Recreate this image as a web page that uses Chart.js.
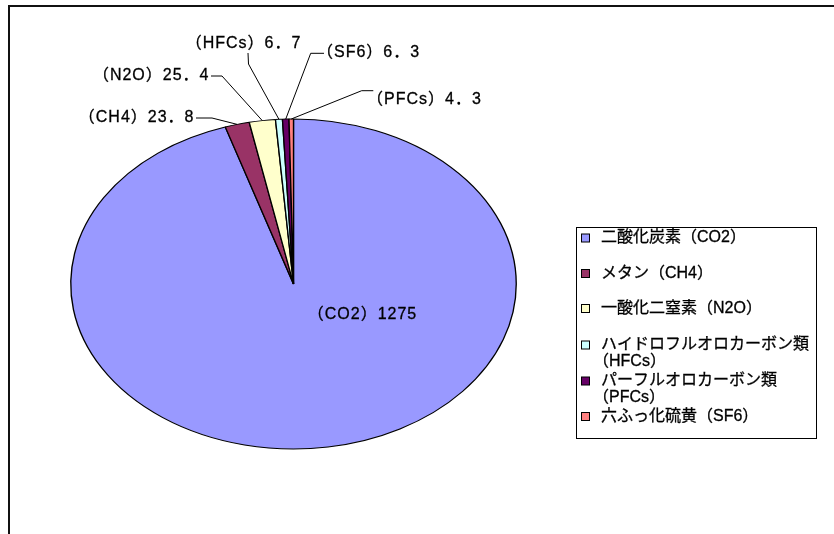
<!DOCTYPE html>
<html lang="ja">
<head>
<meta charset="utf-8">
<title>温室効果ガス排出量の内訳</title>
<script src="https://cdn.jsdelivr.net/npm/chart.js@4.4.1/dist/chart.umd.min.js"></script>
<style>
html, body { margin: 0; padding: 0; background: #fff; }
canvas { display: block; }
</style>
</head>
<body>
<canvas id="pie" width="834" height="534"></canvas>
<script>
// Gas categories, in legend order
const categories = [
  '二酸化炭素（CO2）',
  'メタン（CH4）',
  '一酸化二窒素（N2O）',
  'ハイドロフルオロカーボン類（HFCs）',
  'パーフルオロカーボン類（PFCs）',
  '六ふっ化硫黄（SF6）'
];
// Emission amount of each slice
const values = [1275, 23.8, 25.4, 6.7, 6.3, 4.3];
// Tag printed in front of each slice's value label
const labelTags = ['（CO2）', '（CH4）', '（N2O）', '（HFCs）', '（SF6）', '（PFCs）'];
// Slice fill colours
const colors = ['#9999FF', '#993366', '#FFFFCC', '#CCFFFF', '#660066', '#FF8080'];

const FONT = '16px "Liberation Sans", "Noto Sans CJK JP", sans-serif';
const X_STRETCH = 1.35;   // the pie is drawn as a wide ellipse

// Where each value label sits, as offsets from the pie centre,
// and the bend points of its leader line
const placements = [
  { at: [69, 31], align: 'center' },
  { at: [-99, -166], align: 'right', path: [[-97.5, -166], [-81.5, -166]] },
  { at: [-84, -208], align: 'right', path: [[-82.5, -208], [-71.5, -208]] },
  { at: [-50, -240], align: 'center', path: [[-45.5, -231], [-45, -220]] },
  { at: [23.5, -231], align: 'left', path: [[30.5, -230.7], [17.2, -230.7]] },
  { at: [73.5, -184], align: 'left', path: [[79.8, -193.3], [68.2, -193.3]] }
];

function fmt(v) {
  return String(v).replace('.', '．');
}

// Slightly heavier text, like the rest of the drawing
function heavyText(ctx, text, x, y) {
  ctx.fillText(text, x, y);
  ctx.lineWidth = 0.3;
  ctx.strokeText(text, x, y);
}

// Open frame along the left and top edges
const framePlugin = {
  id: 'frame',
  beforeDraw(chart) {
    const ctx = chart.ctx;
    ctx.save();
    ctx.strokeStyle = '#111';
    ctx.lineWidth = 2;
    ctx.beginPath();
    ctx.moveTo(9, chart.height + 2);
    ctx.lineTo(9, 6);
    ctx.lineTo(chart.width + 2, 6);
    ctx.stroke();
    ctx.restore();
  }
};

// Stretch the pie horizontally around its centre
const ellipsePlugin = {
  id: 'ellipse',
  beforeDatasetsDraw(chart) {
    const arc = chart.getDatasetMeta(0).data[0];
    const ctx = chart.ctx;
    ctx.save();
    ctx.translate(arc.x, arc.y);
    ctx.scale(X_STRETCH, 1);
    ctx.translate(-arc.x, -arc.y);
  },
  afterDatasetsDraw(chart) {
    chart.ctx.restore();
  }
};

// Value labels with leader lines
const labelPlugin = {
  id: 'valueLabels',
  afterDraw(chart) {
    const ctx = chart.ctx;
    const arcs = chart.getDatasetMeta(0).data;
    ctx.save();
    ctx.font = FONT;
    ctx.letterSpacing = '1px';
    ctx.fillStyle = '#000';
    ctx.strokeStyle = '#000';
    ctx.textBaseline = 'middle';
    arcs.forEach((arc, i) => {
      const p = placements[i];
      const cx = arc.x, cy = arc.y;
      if (p.path) {
        const mid = (arc.startAngle + arc.endAngle) / 2;
        const ex = cx + X_STRETCH * arc.outerRadius * Math.cos(mid);
        const ey = cy + arc.outerRadius * Math.sin(mid);
        ctx.lineWidth = 1;
        ctx.beginPath();
        ctx.moveTo(cx + p.path[0][0], cy + p.path[0][1]);
        for (let k = 1; k < p.path.length; k++) {
          ctx.lineTo(cx + p.path[k][0], cy + p.path[k][1]);
        }
        ctx.lineTo(ex, ey);
        ctx.stroke();
      }
      ctx.textAlign = p.align;
      heavyText(ctx, labelTags[i] + fmt(values[i]), cx + p.at[0], cy + p.at[1]);
    });
    ctx.restore();
  }
};

// Boxed legend on the right
const legendPlugin = {
  id: 'boxLegend',
  afterDraw(chart) {
    const ctx = chart.ctx;
    const box = { x: 576.5, y: 227.5, w: 240, h: 211 };
    const textX = 601, swatchX = 581.5, swatch = 8, lineGap = 16.5;
    const rows = [238, 273.5, 308.5, 345, 381, 416.5];
    ctx.save();
    ctx.strokeStyle = '#000';
    ctx.lineWidth = 1;
    ctx.strokeRect(box.x, box.y, box.w, box.h);
    ctx.font = FONT;
    ctx.textAlign = 'left';
    ctx.textBaseline = 'middle';
    const maxW = box.x + box.w - textX - 4;
    categories.forEach((name, i) => {
      const y = rows[i];
      ctx.lineWidth = 1;
      ctx.fillStyle = colors[i];
      ctx.fillRect(swatchX, y - swatch / 2, swatch, swatch);
      ctx.strokeRect(swatchX, y - swatch / 2, swatch, swatch);
      ctx.fillStyle = '#000';
      let lines = [name];
      if (ctx.measureText(name).width > maxW) {
        const cut = name.indexOf('（');
        lines = [name.slice(0, cut), name.slice(cut)];
      }
      // a wrapped line that opens with a full-width bracket is pulled left
      lines.forEach((t, k) => {
        const indent = k > 0 && t.startsWith('（') ? -8 : 0;
        heavyText(ctx, t, textX + indent, y + k * lineGap);
      });
    });
    ctx.restore();
  }
};

new Chart(document.getElementById('pie'), {
  type: 'pie',
  data: {
    labels: categories,
    datasets: [{
      data: values,
      backgroundColor: colors,
      borderColor: '#000',
      borderWidth: 1,
      clip: false
    }]
  },
  options: {
    responsive: false,
    animation: false,
    events: [],
    radius: 165,
    layout: { padding: { left: 124, right: 371, top: 114, bottom: 80 } },
    plugins: {
      legend: { display: false },
      tooltip: { enabled: false }
    }
  },
  plugins: [framePlugin, ellipsePlugin, labelPlugin, legendPlugin]
});
</script>
</body>
</html>
